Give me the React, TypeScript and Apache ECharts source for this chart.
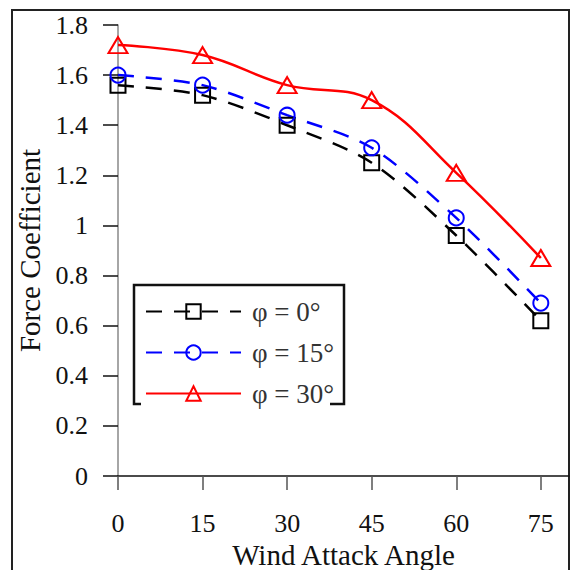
import React, { useEffect, useRef } from "react";
import * as echarts from "echarts";

const angles = [0, 15, 30, 45, 60, 75];
const phi0 = [1.56, 1.52, 1.4, 1.25, 0.96, 0.62];
const phi15 = [1.6, 1.56, 1.44, 1.31, 1.03, 0.69];
const phi30 = [1.72, 1.68, 1.56, 1.5, 1.21, 0.87];
const seriesNames = ["φ = 0°", "φ = 15°", "φ = 30°"];
const yTicks = [0, 0.2, 0.4, 0.6, 0.8, 1, 1.2, 1.4, 1.6, 1.8];

const FONT = "'Liberation Serif', 'Times New Roman', serif";

export default function App() {
  const ref = useRef<HTMLDivElement>(null);
  useEffect(() => {
    if (!ref.current) return;
    const chart = echarts.init(ref.current, undefined, { renderer: "svg" });
    const pairs = (vals: number[]) => angles.map((a, i) => [a, vals[i]]);
    chart.setOption({
      animation: false,
      backgroundColor: "#fff",
      grid: { left: 118, right: 2, top: 25, bottom: 94, outerBoundsMode: "none", containLabel: false },
      xAxis: {
        type: "value",
        min: 0,
        max: 80,
        name: "Wind Attack Angle",
        nameLocation: "middle",
        nameGap: 61,
        nameTextStyle: { fontFamily: FONT, fontSize: 29, color: "#111" },
        axisLine: { lineStyle: { color: "#111", width: 1.5 } },
        axisTick: { customValues: angles, length: 14, lineStyle: { color: "#555", width: 1.5 } },
        axisLabel: {
          customValues: angles,
          margin: 34,
          fontFamily: FONT,
          fontSize: 26,
          color: "#111",
        },
        splitLine: { show: false },
      },
      yAxis: {
        type: "value",
        min: 0,
        max: 1.8,
        interval: 0.2,
        name: "Force Coefficient",
        nameLocation: "middle",
        nameGap: 72,
        nameTextStyle: { fontFamily: FONT, fontSize: 29, color: "#111" },
        axisLine: { show: true, lineStyle: { color: "#888", width: 1.5 } },
        axisTick: { show: true, length: 15, lineStyle: { color: "#111", width: 1.5 } },
        axisLabel: {
          customValues: yTicks,
          margin: 30,
          fontFamily: FONT,
          fontSize: 26,
          color: "#111",
          formatter: (v: number) => String(+v.toFixed(1)),
        },
        splitLine: { show: false },
      },
      legend: {
        orient: "vertical",
        left: 140,
        top: 293,
        itemWidth: 95,
        itemHeight: 18,
        itemGap: 14,
        textStyle: { fontFamily: FONT, fontSize: 27, color: "#333", padding: [0, 0, 0, 6] },
        data: seriesNames,
      },
      graphic: [
        {
          type: "rect",
          shape: { x: 12, y: 10, width: 557, height: 600 },
          style: { fill: "none", stroke: "#222", lineWidth: 2 },
          silent: true,
        },
        {
          type: "polyline",
          shape: {
            points: [
              [141, 404],
              [134, 404],
              [134, 285],
              [344, 285],
              [344, 404],
              [330, 404],
            ],
          },
          style: { fill: "none", stroke: "#111", lineWidth: 2.5 },
          silent: true,
        },
      ],
      series: [
        {
          name: seriesNames[0],
          type: "line",
          data: pairs(phi0),
          smooth: 0.3,
          symbol: "rect",
          symbolSize: 15,
          lineStyle: { color: "#000", width: 2.5, type: [16, 12] },
          itemStyle: { color: "transparent", borderColor: "#000", borderWidth: 2 },
        },
        {
          name: seriesNames[1],
          type: "line",
          data: pairs(phi15),
          smooth: 0.3,
          symbol: "circle",
          symbolSize: 15,
          lineStyle: { color: "#0000ff", width: 2.5, type: [16, 12] },
          itemStyle: { color: "transparent", borderColor: "#0000ff", borderWidth: 2 },
        },
        {
          name: seriesNames[2],
          type: "line",
          data: pairs(phi30),
          smooth: 0.4,
          symbol: "triangle",
          symbolSize: [19, 16],
          lineStyle: { color: "#ff0000", width: 2.5 },
          itemStyle: { color: "transparent", borderColor: "#ff0000", borderWidth: 2 },
        },
      ],
    });
    return () => chart.dispose();
  }, []);
  return (
    <div
      ref={ref}
      style={{ position: "fixed", left: 0, top: 0, width: 571, height: 570 }}
    />
  );
}
